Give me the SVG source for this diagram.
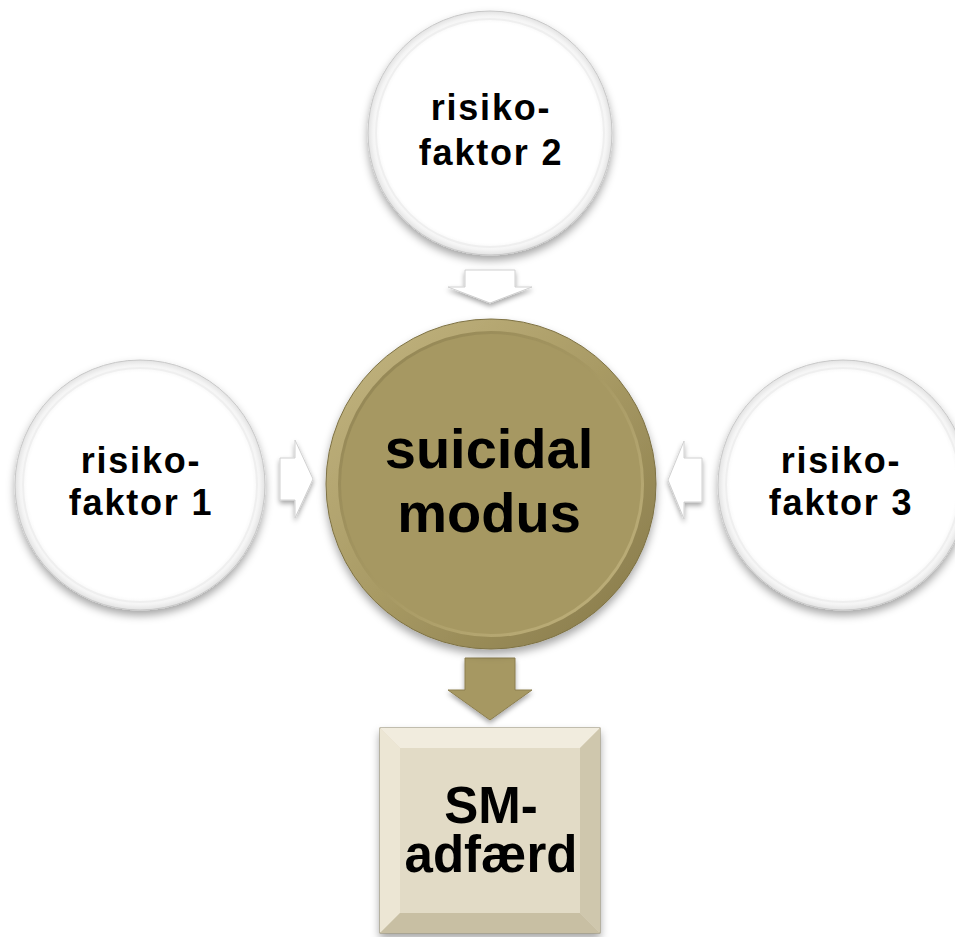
<svg xmlns="http://www.w3.org/2000/svg" width="955" height="937" viewBox="0 0 955 937">
<defs>
<filter id="sh" x="-20%" y="-20%" width="140%" height="150%">
<feDropShadow dx="0" dy="5" stdDeviation="4" flood-color="#000" flood-opacity="0.35"/>
</filter>
<filter id="shs" x="-30%" y="-30%" width="160%" height="170%">
<feDropShadow dx="0" dy="3" stdDeviation="2.5" flood-color="#000" flood-opacity="0.35"/>
</filter>
<radialGradient id="wr" cx="50%" cy="50%" r="50%">
<stop offset="0.9" stop-color="#ffffff"/>
<stop offset="0.96" stop-color="#f4f4f4"/>
<stop offset="1" stop-color="#e2e2e2"/>
</radialGradient>
<linearGradient id="gr" x1="0" y1="0" x2="1" y2="1">
<stop offset="0" stop-color="#c4b682"/>
<stop offset="0.5" stop-color="#a89a64"/>
<stop offset="1" stop-color="#857848"/>
</linearGradient>
<linearGradient id="gi" x1="0" y1="0" x2="1" y2="1">
<stop offset="0" stop-color="#8f8252"/>
<stop offset="0.5" stop-color="#a79963"/>
<stop offset="1" stop-color="#c2b47f"/>
</linearGradient>
<style>
.t{font-family:"Liberation Sans",Arial,sans-serif;font-weight:bold;fill:#000;text-anchor:middle}
.s{font-size:36px;letter-spacing:1.8px}
.b{font-size:56px}
.m{font-size:51px}
.wc{fill:url(#wr);stroke:#c8c8c8;stroke-width:1}
.wa{fill:#ffffff;stroke:#d0d0d0;stroke-width:1}
</style>
</defs>
<g id="connectors">
<polygon class="wa" filter="url(#shs)" points="465,270 515,270 515,287 532,287 490,303 448,287 465,287"/>
<polygon class="wa" filter="url(#shs)" points="280,458 295,458 295,440 313,479 295,518 295,500 280,500"/>
<polygon class="wa" filter="url(#shs)" points="702,458 684,458 684,441 668,480 684,519 684,502 702,502"/>
<polygon fill="#a69862" stroke="#8c7f50" stroke-width="1" filter="url(#shs)" points="465,658 515,658 515,690 532,690 490,720 448,690 465,690"/>
</g>
<g id="node-risikofaktor2">
<circle class="wc" cx="490" cy="133" r="122" filter="url(#sh)"/>
<circle cx="490" cy="133" r="114" fill="none" stroke="#efefef" stroke-width="2"/>
<text class="t s" x="491" y="120">risiko-</text>
<text class="t s" x="491" y="165">faktor 2</text>
</g>
<g id="node-risikofaktor1">
<circle class="wc" cx="140" cy="485" r="125" filter="url(#sh)"/>
<circle cx="140" cy="485" r="117" fill="none" stroke="#efefef" stroke-width="2"/>
<text class="t s" x="141" y="473">risiko-</text>
<text class="t s" x="141" y="515">faktor 1</text>
</g>
<g id="node-risikofaktor3">
<circle class="wc" cx="843" cy="485" r="125" filter="url(#sh)"/>
<circle cx="843" cy="485" r="117" fill="none" stroke="#efefef" stroke-width="2"/>
<text class="t s" x="841" y="473">risiko-</text>
<text class="t s" x="841" y="515">faktor 3</text>
</g>
<g id="node-suicidal-modus">
<circle cx="491" cy="484" r="165" fill="url(#gr)" stroke="#7e7244" stroke-width="1" filter="url(#sh)"/>
<circle cx="491" cy="484" r="153" fill="url(#gi)"/>
<circle cx="491" cy="484" r="150" fill="#a69862"/>
<text class="t b" x="489" y="468">suicidal</text>
<text class="t b" x="489" y="532">modus</text>
</g>
<g id="node-sm-adfaerd" filter="url(#sh)">
<rect x="380" y="728" width="220" height="205" fill="#e2dbc6" stroke="#8c8466" stroke-width="1"/>
<polygon points="380,728 600,728 580,748 400,748" fill="#f1ecde"/>
<polygon points="380,728 400,748 400,913 380,933" fill="#ece6d4"/>
<polygon points="600,728 600,933 580,913 580,748" fill="#cfc7ad"/>
<polygon points="380,933 400,913 580,913 600,933" fill="#c8bfa3"/>
<rect x="400" y="748" width="180" height="165" fill="#e2dbc6"/>
<text class="t m" x="491" y="823">SM-</text>
<text class="t m" x="491" y="872">adfærd</text>
</g>
</svg>
